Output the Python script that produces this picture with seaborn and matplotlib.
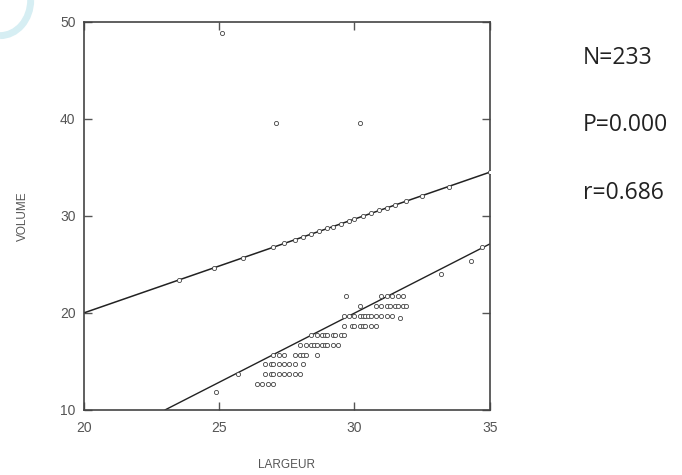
import numpy as np
import pandas as pd
import seaborn as sns
import matplotlib.pyplot as plt
from matplotlib.patches import Arc

# ------------------------
# Dados
# ------------------------
# pontos sobre a reta superior
upper_x = [23.5, 24.8, 25.9, 27.0, 27.4, 27.8, 28.1, 28.4, 28.7, 29.0, 29.2, 29.5,
           29.8, 30.0, 30.3, 30.6, 30.9, 31.2, 31.5, 31.9, 32.5, 33.5, 35.0]
upper_y = [23.4, 24.6, 25.7, 26.8, 27.2, 27.5, 27.8, 28.1, 28.4, 28.7, 28.9, 29.2,
           29.5, 29.7, 30.0, 30.3, 30.6, 30.8, 31.1, 31.5, 32.0, 33.0, 34.5]

# nuvem inferior (largeur, volume)
lower_x = [29.7, 31.0, 31.2, 31.4, 31.6, 31.8,
           30.2, 30.8, 31.0, 31.2, 31.3, 31.5, 31.6, 31.8, 31.9,
           29.6, 29.8, 30.0, 30.2, 30.3, 30.4, 30.5, 30.6, 30.8, 31.0, 31.2, 31.4, 31.7,
           29.6, 29.9, 30.0, 30.2, 30.3, 30.4, 30.6, 30.8,
           28.4, 28.6, 28.8, 28.9, 29.0, 29.2, 29.3, 29.5, 29.6,
           28.0, 28.2, 28.4, 28.5, 28.6, 28.8, 28.9, 29.0, 29.2, 29.4,
           27.0, 27.2, 27.4, 27.8, 28.0, 28.1, 28.2, 28.6,
           26.7, 26.9, 27.0, 27.2, 27.4, 27.6, 27.8, 28.1,
           26.7, 26.9, 27.0, 27.2, 27.4, 27.6, 27.8, 28.0,
           26.4, 26.6, 26.8, 27.0,
           24.9, 25.7, 33.2, 34.3, 34.7]
lower_y = [21.7] * 6 + [20.7] * 9 + [19.7] * 12 + [19.5] + [18.7] * 8 + [17.7] * 9 \
    + [16.7] * 10 + [15.7] * 8 + [14.7] * 8 + [13.7] * 8 + [12.7] * 4 \
    + [11.8, 13.7, 24.0, 25.3, 26.8]

# pontos isolados
iso_x = [25.1, 27.1, 30.2]
iso_y = [48.9, 39.6, 39.6]

# retas ajustadas (extremos)
upper_fit_x = [20.0, 35.0]
upper_fit_y = [20.0, 34.5]
lower_fit_x = [23.0, 35.0]
lower_fit_y = [10.0, 27.1]

stats_lines = ["N=233", "P=0.000", "r=0.686"]

# ------------------------
# Figura
# ------------------------
sns.set_theme(style="ticks")
plt.rcParams["font.family"] = ["Liberation Sans", "DejaVu Sans"]

fig = plt.figure(figsize=(6.82, 4.75), dpi=100)
ax = fig.add_axes([0.123, 0.137, 0.595, 0.817])

pts = pd.concat([
    pd.DataFrame({"x": upper_x, "y": upper_y}),
    pd.DataFrame({"x": lower_x, "y": lower_y}),
    pd.DataFrame({"x": iso_x, "y": iso_y}),
])
sns.scatterplot(data=pts, x="x", y="y", ax=ax, marker="o", s=9,
                facecolor="white", edgecolor="#444444", linewidth=0.6, zorder=3)

sns.lineplot(x=upper_fit_x, y=upper_fit_y, ax=ax, color="#222222", lw=1.1, zorder=2)
sns.lineplot(x=lower_fit_x, y=lower_fit_y, ax=ax, color="#222222", lw=1.0, zorder=2)

ax.set_xlim(20, 35)
ax.set_ylim(10, 50)
ax.set_xticks([20, 25, 30, 35])
ax.set_yticks([10, 20, 30, 40, 50])
ax.tick_params(direction="in", length=6, width=1, colors="#555555",
               labelsize=10, top=True, right=True, pad=6)
ax.tick_params(axis="x", pad=8)
for sp in ax.spines.values():
    sp.set_visible(True)
    sp.set_color("#444444")
    sp.set_linewidth(1.2)

ax.set_xlabel("LARGEUR", fontsize=8.5, color="#555555", labelpad=17)
ax.set_ylabel("VOLUME", fontsize=8.5, color="#555555", labelpad=22)

for i, t in enumerate(stats_lines):
    fig.text(0.855, 0.878 - i * 0.142, t, fontsize=16.5, family="Open Sans",
             color="#222222", ha="left", va="center")

# marca circular clara no canto (artefato do original)
fig.patches.append(Arc((0.0, 1.0), 0.09, 0.15, transform=fig.transFigure,
                       theta1=270, theta2=360, color="#d6eef3", lw=5))

fig.savefig("out.png", dpi=100)
